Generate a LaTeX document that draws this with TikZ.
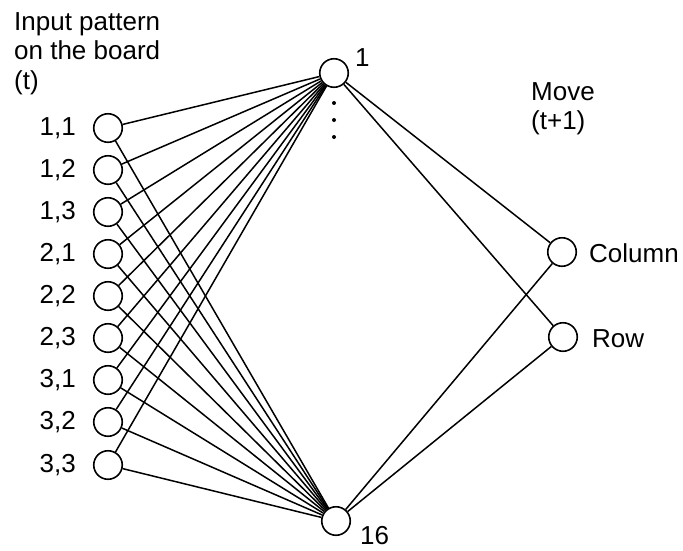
\documentclass[tikz,border=0pt]{standalone}
\usepackage{fontspec}
\setmainfont{Liberation Sans}
\begin{document}
\begin{tikzpicture}[x=1pt,y=-1pt,
  unit/.style={circle,draw,line width=1.6pt,minimum size=28.5pt,inner sep=0pt},
  wire/.style={line width=1.5pt},
  lbl/.style={font=\fontsize{26}{29.5}\selectfont,inner sep=0pt}]
\useasboundingbox (0,0) rectangle (683,550);
% input units
\foreach \n/\y in {11/128,12/170,13/212,21/254,22/296,23/338,31/380,32/422,33/465}{
  \node[unit] (i\n) at (108,\y) {};
}
\foreach \n/\t in {11/{1,1},12/{1,2},13/{1,3},21/{2,1},22/{2,2},23/{2,3},31/{3,1},32/{3,2},33/{3,3}}{
  \node[lbl,anchor=east] (l\n) at ([xshift=-32pt]i\n.center) {\t};
}
% hidden units
\node[unit] (h1) at (334,73) {};
\node[unit] (h16) at (336,521) {};
\node[lbl,anchor=west] (lh1) at (355,58) {1};
\node[lbl,anchor=west] (lh16) at (360,536) {16};
\foreach \y/\k in {103/a,120/b,137/c}{
  \fill (334,\y) circle (2pt) coordinate (d\k);
}
% output units
\node[unit] (col) at (562,252) {};
\node[unit] (row) at (563,337) {};
\node[lbl,anchor=west] (lcol) at (589,253) {Column};
\node[lbl,anchor=west] (lrow) at (592,339) {Row};
% headings
\node[lbl,anchor=north west,align=left] (tin) at (14,12) {Input pattern\\on the board\\(t)};
\node[lbl,anchor=north west,align=left] (tout) at (531,82) {Move\\(t+1)};
% connections
\foreach \n in {11,12,13,21,22,23,31,32,33}{
  \draw[wire] (i\n) -- (h1);
  \draw[wire] (i\n) -- (h16);
}
\draw[wire] (h1) -- (col);
\draw[wire] (h1) -- (row);
\draw[wire] (h16) -- (col);
\draw[wire] (h16) -- (row);
\end{tikzpicture}
\end{document}
